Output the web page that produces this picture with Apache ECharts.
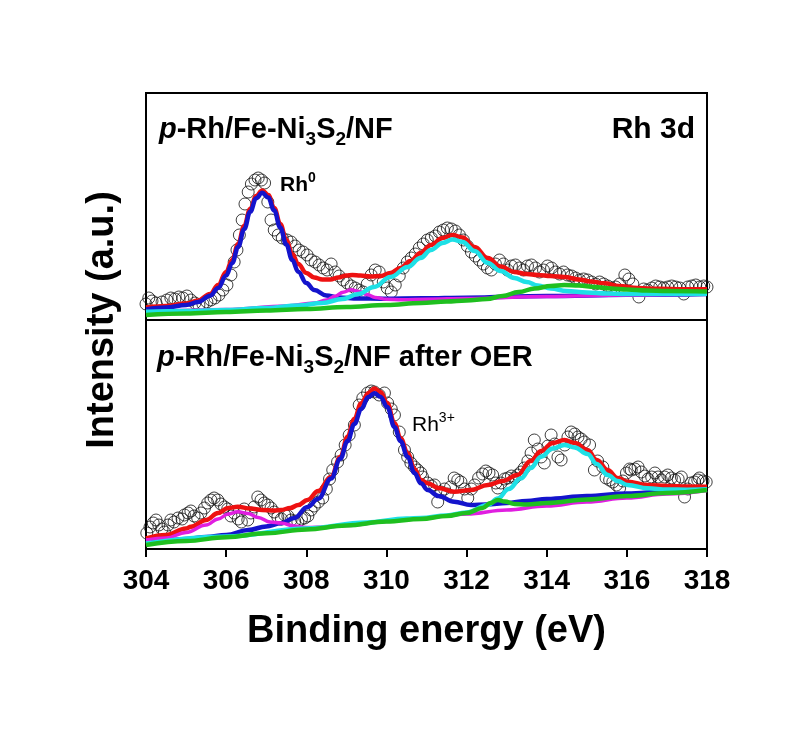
<!DOCTYPE html>
<html>
<head>
<meta charset="utf-8">
<title>Rh 3d XPS</title>
<script src="https://cdn.jsdelivr.net/npm/echarts@6/dist/echarts.min.js"></script>
<style>
  html, body { margin: 0; padding: 0; background: #fff; }
  #chart { width: 798px; height: 731px; }
</style>
</head>
<body>
<div id="chart"></div>
<script>
// Rh 3d XPS, two panels: fresh sample (top) and after OER (bottom)
// x = binding energy (eV), y = intensity (a.u.)

const energyMin = 304;
const energyMax = 318;
const energyStep = 2;

// ---------- top panel: p-Rh/Fe-Ni3S2/NF ----------
const topRaw = [
  [304.00,16],[304.07,22],[304.15,19],[304.25,17],[304.40,18],[304.52,20],[304.62,22],[304.72,21],
  [304.82,23],[304.92,22],[305.02,24],[305.12,20],[305.22,17],[305.32,15],[305.42,16],[305.52,18],
  [305.62,20],[305.72,22],[305.82,25],[305.92,30],[306.02,35],[306.12,45],[306.20,58],[306.27,70],
  [306.33,85],[306.40,100],[306.47,116],[306.55,128],[306.63,136],[306.72,140],[306.80,142],[306.88,140],
  [306.96,137],[307.04,118],[307.12,100],[307.20,90],[307.30,85],[307.40,82],[307.52,80],[307.62,78],
  [307.72,74],[307.82,70],[307.92,68],[308.02,65],[308.12,60],[308.22,58],[308.32,55],[308.42,52],
  [308.52,50],[308.62,56],[308.72,48],[308.82,44],[308.92,40],[309.02,37],[309.12,34],[309.22,32],
  [309.32,30],[309.42,28],[309.52,36],[309.62,45],[309.72,50],[309.82,48],[309.92,38],[310.02,32],
  [310.12,28],[310.22,35],[310.32,44],[310.42,52],[310.52,58],[310.62,62],[310.72,66],[310.82,72],
  [310.92,76],[311.02,80],[311.12,82],[311.22,84],[311.32,88],[311.42,90],[311.52,92],[311.62,91],
  [311.72,89],[311.82,85],[311.92,80],[312.02,74],[312.12,68],[312.22,64],[312.32,60],[312.42,56],
  [312.52,52],[312.62,50],[312.72,56],[312.82,60],[312.92,56],[313.02,50],[313.12,54],[313.22,55],
  [313.32,52],[313.42,50],[313.52,54],[313.62,55],[313.72,52],[313.82,48],[313.92,50],[314.02,54],
  [314.12,52],[314.22,48],[314.32,46],[314.42,48],[314.52,45],[314.62,44],[314.72,42],[314.82,40],
  [314.92,41],[315.02,40],[315.12,38],[315.22,36],[315.32,38],[315.42,36],[315.52,34],[315.62,32],
  [315.72,33],[315.82,36],[315.95,45],[316.05,41],[316.15,36],[316.30,23],[316.42,31],[316.52,30],
  [316.62,32],[316.72,34],[316.82,33],[316.92,32],[317.02,33],[317.12,34],[317.22,33],[317.32,32],
  [317.42,26],[317.52,33],[317.62,34],[317.72,35],[317.82,33],[317.92,34],[318.00,33]
];
const topEnvelope = [
  [304.0,12.5],[304.5,14],[305.0,16.5],[305.3,19.5],[305.6,26],[305.8,35],[306.0,48],[306.15,60],
  [306.3,76],[306.45,94],[306.6,111],[306.75,124],[306.9,129.5],[307.05,125],[307.2,112],[307.35,96],
  [307.5,80],[307.65,66],[307.8,56],[308.0,47],[308.2,42.5],[308.4,40.5],[308.6,40.5],[308.8,42.5],
  [309.0,44.5],[309.15,45],[309.35,44.5],[309.6,43.5],[309.86,44],[310.1,47],[310.35,52],[310.6,59],
  [310.85,67],[311.11,75],[311.4,82],[311.65,85],[311.9,82.5],[312.2,73],[312.53,62],[312.85,53.5],
  [313.19,48],[313.5,46],[313.78,45],[314.1,44],[314.44,43],[314.8,40.5],[315.1,38.5],[315.44,36.7],
  [315.8,34],[316.27,32],[316.8,31.2],[317.4,30.8],[318.0,30.7]
];
const topRh0 = [
  [304.0,10.6],[304.5,12.4],[305.0,15],[305.3,18],[305.6,24.3],[305.8,32],[306.0,44.4],[306.15,56.8],
  [306.3,73],[306.45,90.8],[306.6,108.3],[306.75,121.8],[306.9,127.3],[307.05,122.4],[307.2,109.5],
  [307.35,92.6],[307.5,75.6],[307.65,60],[307.8,48.2],[308.0,36.9],[308.2,29.9],[308.5,24.6],
  [308.8,22.6],[309.3,21.5],[309.9,21.3],[310.9,21.7],[312.0,22.3],[314.0,24],[316.0,25.2],[318.0,26.1]
];
const topMagenta = [
  [304.0,8],[306.0,10.5],[307.5,14],[308.2,17],[308.5,20],[308.72,23.8],[308.92,27.8],[309.12,30.2],
  [309.32,28.6],[309.52,25.4],[309.72,22.6],[310.0,20.7],[310.4,20.3],[311.0,20.8],[312.0,21.5],
  [314.0,23.5],[316.0,25],[318.0,26]
];
const topCyan = [
  [304.0,8.3],[305.0,9],[306.0,10],[307.0,12],[307.8,14.5],[308.4,17],[308.9,21],[309.3,26],
  [309.69,33],[310.1,43],[310.53,53],[310.85,62],[311.11,70],[311.4,77],[311.65,80.5],[311.9,78],
  [312.2,69],[312.53,57],[312.85,49],[313.19,42],[313.5,38],[313.78,34.5],[314.1,31.5],[314.5,29],
  [315.0,27.5],[315.5,26.5],[316.0,26],[317.0,26],[318.0,26.2]
];
const topGreen = [
  [304.0,5],[305.0,6.5],[306.0,8],[307.0,9.5],[308.0,11],[309.0,13],[310.0,15],[310.86,17],
  [311.5,18.5],[312.0,19.5],[312.5,21],[312.9,24],[313.3,28],[313.7,31.5],[314.1,34],[314.44,35],
  [314.8,34.5],[315.2,33],[315.6,31.5],[316.0,30.5],[316.5,29.5],[317.0,29],[318.0,28.5]
];

// ---------- bottom panel: after OER ----------
const botRaw = [
  [304.02,16],[304.10,22],[304.18,26],[304.25,29],[304.32,24],[304.40,20],[304.46,17],[304.55,24],
  [304.62,29],[304.70,27],[304.80,31],[304.90,30],[304.96,34],[305.05,36],[305.12,38],[305.20,33],
  [305.29,31],[305.37,36],[305.46,41],[305.54,46],[305.62,49],[305.70,51],[305.79,49],[305.87,45],
  [305.96,42],[306.04,40],[306.12,33],[306.20,36],[306.30,30],[306.38,27],[306.45,40],[306.54,29],
  [306.62,36],[306.70,42],[306.79,52],[306.87,49],[306.95,46],[307.04,44],[307.12,41],[307.20,37],
  [307.29,32],[307.38,30],[307.46,34],[307.54,33],[307.62,29],[307.71,28],[307.79,27],[307.88,30],
  [307.96,31],[308.04,33],[308.12,39],[308.20,43],[308.30,47],[308.41,51],[308.50,60],[308.58,70],
  [308.66,79],[308.78,87],[308.87,94],[308.97,104],[309.07,114],[309.20,124],[309.32,144],[309.41,151],
  [309.53,156],[309.62,158],[309.70,157],[309.82,154],[309.95,156],[310.03,146],[310.12,140],[310.20,134],
  [310.32,117],[310.45,99],[310.53,92],[310.61,86],[310.70,82],[310.78,79],[310.86,76],[310.90,72],
  [311.03,66],[311.12,63],[311.20,64],[311.28,47],[311.36,57],[311.45,60],[311.52,55],[311.60,62],
  [311.69,71],[311.78,69],[311.86,67],[311.95,60],[312.03,51],[312.12,60],[312.20,64],[312.30,71],
  [312.40,75],[312.48,78],[312.56,76],[312.65,74],[312.73,66],[312.78,61],[312.86,66],[312.95,70],
  [313.03,71],[313.12,73],[313.20,71],[313.28,74],[313.36,77],[313.44,81],[313.53,88],[313.61,96],
  [313.69,109],[313.78,100],[313.86,92],[313.94,86],[314.03,103],[314.11,114],[314.20,105],[314.28,92],
  [314.36,89],[314.45,104],[314.53,112],[314.61,117],[314.70,115],[314.78,112],[314.86,110],[314.94,107],
  [315.07,104],[315.19,79],[315.27,88],[315.40,82],[315.48,71],[315.57,69],[315.65,67],[315.74,64],
  [315.82,61],[315.90,68],[315.99,76],[316.07,80],[316.11,79],[316.20,80],[316.28,82],[316.36,77],
  [316.45,73],[316.53,70],[316.62,72],[316.70,76],[316.78,72],[316.86,69],[316.94,72],[317.02,74],
  [317.11,71],[317.19,69],[317.28,70],[317.36,72],[317.44,52],[317.52,60],[317.60,66],[317.69,67],
  [317.77,69],[317.81,71],[317.90,68],[317.98,67]
];
const botEnvelope = [
  [304.0,10.7],[304.5,14],[305.0,20.5],[305.12,22.3],[305.5,29],[305.8,36],[306.05,41],[306.29,42.3],
  [306.6,40.5],[306.9,39],[307.2,38.5],[307.37,39],[307.6,41],[307.8,44],[308.03,49],[308.3,58],
  [308.62,72.3],[308.85,92],[309.03,112.3],[309.2,130],[309.37,145.7],[309.55,156],[309.7,160.5],
  [309.85,157],[310.02,146],[310.2,125.7],[310.35,111],[310.53,95.7],[310.7,80],[310.86,69],
  [311.03,65.7],[311.3,61],[311.69,57.3],[312.1,59],[312.53,64],[312.9,68],[313.27,74],[313.6,88],
  [313.86,98],[314.15,106],[314.44,109],[314.7,106],[315.02,99],[315.25,89],[315.52,79],[315.77,71],
  [316.02,67.3],[316.52,64],[317.0,63],[317.5,62.5],[318.0,62.3]
];
const botRh3 = [
  [304.0,7.3],[304.5,8.5],[305.0,10],[305.5,12],[306.0,14],[306.55,19],[307.0,22.5],[307.37,25.7],
  [307.7,31],[308.03,42],[308.3,50.3],[308.62,70.6],[308.85,90.3],[309.03,107.9],[309.2,125],
  [309.37,140],[309.55,152],[309.7,155.7],[309.85,152.2],[310.02,142],[310.2,122],[310.35,108],
  [310.53,92],[310.7,76],[310.86,65.7],[311.03,59],[311.3,53],[311.69,47.3],[312.11,44],[312.5,44.5],
  [313.0,46],[313.5,48],[314.0,50],[315.0,53],[316.0,55.5],[317.0,57.5],[318.0,59.5]
];
const botMagenta = [
  [304.0,9],[304.5,11],[305.0,16.5],[305.5,24],[305.8,30],[306.05,35],[306.29,37.3],[306.55,35.5],
  [306.8,31.5],[307.1,27],[307.37,26],[307.7,23],[308.0,21.5],[308.5,22],[309.0,23.5],[310.0,27.5],
  [311.0,31.3],[312.0,35],[313.0,39],[314.0,43],[315.0,47],[316.0,51],[317.0,55],[318.0,58.5]
];
const botCyan = [
  [304.0,5.5],[306.0,12.5],[308.0,20.5],[309.5,26.5],[310.5,30.5],[310.86,31],[311.5,33.5],[312.0,36.5],
  [312.53,44],[312.78,50.5],[313.05,60],[313.36,70.7],[313.6,81],[313.86,92.3],[314.15,100.5],
  [314.44,104],[314.7,101.5],[315.02,95],[315.25,85],[315.52,74],[315.77,68],[316.02,64],[316.52,60.7],
  [317.0,59.5],[317.5,59.3],[318.0,59.7]
];
const botGreen = [
  [304.0,4],[305.0,8],[306.0,11.8],[307.0,15.7],[308.0,19.6],[309.0,23.5],[310.0,27.4],[310.86,30],
  [311.5,33],[312.0,36],[312.4,41],[312.6,46],[312.78,49],[312.95,47.5],[313.2,45],[313.5,44.5],
  [314.0,46],[315.0,49.5],[316.0,53],[317.0,56],[318.0,59]
];

const FONT = 'Liberation Sans, Arial, sans-serif';
const COLORS = {
  envelope: '#ee1111',
  main: '#1414cc',
  magenta: '#e01ee0',
  cyan: '#1ee0e6',
  green: '#1fbf1f'
};

function rawSeries(data, idx) {
  return {
    type: 'scatter',
    xAxisIndex: idx,
    yAxisIndex: idx,
    data: data,
    symbol: 'circle',
    symbolSize: 12,
    itemStyle: { color: 'rgba(255,255,255,0)', borderColor: '#111', borderWidth: 1 },
    z: 1,
    silent: true
  };
}

function fitSeries(data, idx, color, width, z) {
  return {
    type: 'line',
    xAxisIndex: idx,
    yAxisIndex: idx,
    data: data,
    showSymbol: false,
    smooth: 0.4,
    smoothMonotone: 'x',
    lineStyle: { color: color, width: width },
    z: z,
    silent: true
  };
}

const titleRich = {
  i: { fontFamily: FONT, fontSize: 29, fontWeight: 'bold', fontStyle: 'italic', lineHeight: 29, verticalAlign: 'top', color: '#000' },
  b: { fontFamily: FONT, fontSize: 29, fontWeight: 'bold', lineHeight: 29, verticalAlign: 'top', color: '#000' },
  s: { fontFamily: FONT, fontSize: 19, fontWeight: 'bold', lineHeight: 19, verticalAlign: 'top', padding: [15, 0, 0, 0], color: '#000' }
};

const chart = echarts.init(document.getElementById('chart'), null, { renderer: 'canvas' });

const option = {
  animation: false,
  backgroundColor: '#fff',
  grid: [
    { left: 146, top: 93, width: 561, height: 227, show: true, borderColor: '#000', borderWidth: 2, backgroundColor: 'transparent' },
    { left: 146, top: 320, width: 561, height: 229, show: true, borderColor: '#000', borderWidth: 2, backgroundColor: 'transparent' }
  ],
  xAxis: [
    {
      type: 'value', gridIndex: 0, min: energyMin, max: energyMax, interval: energyStep,
      axisLine: { show: false }, axisTick: { show: false }, axisLabel: { show: false }, splitLine: { show: false }
    },
    {
      type: 'value', gridIndex: 1, min: energyMin, max: energyMax, interval: energyStep,
      axisLine: { show: true, onZero: false, lineStyle: { color: '#000', width: 2 } },
      axisTick: { show: true, inside: false, length: 8, lineStyle: { color: '#000', width: 2 } },
      axisLabel: { color: '#000', fontFamily: FONT, fontSize: 28, fontWeight: 'bold', margin: 18 },
      splitLine: { show: false },
      name: 'Binding energy (eV)',
      nameLocation: 'middle',
      nameGap: 64,
      nameTextStyle: { color: '#000', fontFamily: FONT, fontSize: 38, fontWeight: 'bold' }
    }
  ],
  yAxis: [
    {
      type: 'value', gridIndex: 0, min: 0, max: 227,
      axisLine: { show: false }, axisTick: { show: false }, axisLabel: { show: false }, splitLine: { show: false }
    },
    {
      type: 'value', gridIndex: 1, min: 0, max: 229,
      axisLine: { show: false }, axisTick: { show: false }, axisLabel: { show: false }, splitLine: { show: false }
    }
  ],
  graphic: [
    {
      type: 'text', x: 103, y: 320, rotation: Math.PI / 2,
      style: {
        text: 'Intensity (a.u.)', fill: '#000',
        font: 'bold 38px ' + FONT, textAlign: 'center', textVerticalAlign: 'middle'
      }
    },
    {
      type: 'text', x: 159, y: 115,
      style: { text: '{i|p}{b|-Rh/Fe-Ni}{s|3}{b|S}{s|2}{b|/NF}', rich: titleRich }
    },
    {
      type: 'text', x: 157, y: 343,
      style: { text: '{i|p}{b|-Rh/Fe-Ni}{s|3}{b|S}{s|2}{b|/NF after OER}', rich: titleRich }
    },
    {
      type: 'text', x: 695, y: 130,
      style: {
        text: 'Rh 3d', fill: '#000', font: 'bold 30px ' + FONT,
        textAlign: 'right', textVerticalAlign: 'middle'
      }
    },
    {
      type: 'text', x: 280, y: 171,
      style: {
        text: '{m|Rh}{u|0}',
        rich: {
          m: { fontFamily: FONT, fontSize: 21, fontWeight: 'bold', lineHeight: 21, verticalAlign: 'top', padding: [4, 0, 0, 0], color: '#000' },
          u: { fontFamily: FONT, fontSize: 14, fontWeight: 'bold', lineHeight: 14, verticalAlign: 'top', color: '#000' }
        }
      }
    },
    {
      type: 'text', x: 412, y: 411,
      style: {
        text: '{m|Rh}{u|3+}',
        rich: {
          m: { fontFamily: FONT, fontSize: 21, lineHeight: 21, verticalAlign: 'top', padding: [4, 0, 0, 0], color: '#000' },
          u: { fontFamily: FONT, fontSize: 14, lineHeight: 14, verticalAlign: 'top', color: '#000' }
        }
      }
    }
  ],
  series: [
    rawSeries(topRaw, 0),
    fitSeries(topEnvelope, 0, COLORS.envelope, 4.5, 2),
    fitSeries(topRh0, 0, COLORS.main, 4.5, 3),
    fitSeries(topMagenta, 0, COLORS.magenta, 3.5, 4),
    fitSeries(topCyan, 0, COLORS.cyan, 4.5, 4),
    fitSeries(topGreen, 0, COLORS.green, 4.5, 5),

    rawSeries(botRaw, 1),
    fitSeries(botEnvelope, 1, COLORS.envelope, 4.5, 2),
    fitSeries(botRh3, 1, COLORS.main, 4.5, 3),
    fitSeries(botMagenta, 1, COLORS.magenta, 3.5, 4),
    fitSeries(botCyan, 1, COLORS.cyan, 4.5, 4),
    fitSeries(botGreen, 1, COLORS.green, 4.5, 5)
  ]
};

chart.setOption(option);
</script>
</body>
</html>
